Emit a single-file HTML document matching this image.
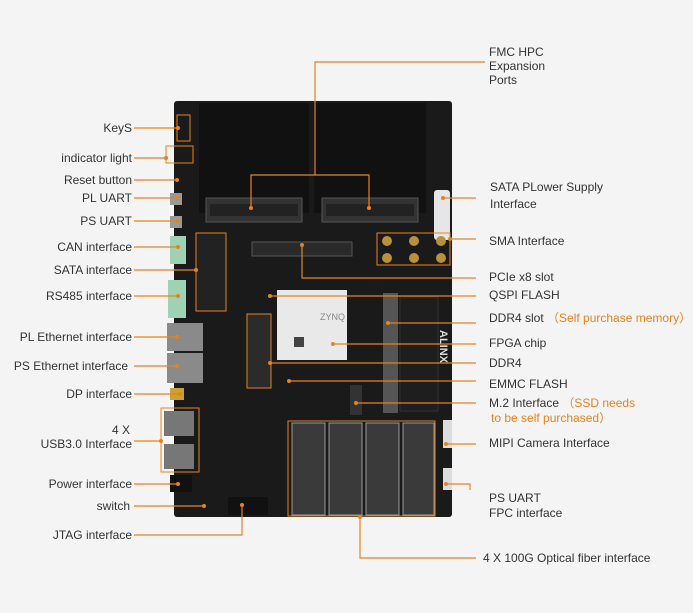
<!DOCTYPE html>
<html><head><meta charset="utf-8"><style>
html,body{margin:0;padding:0;background:#f4f4f4;}
svg{display:block}
text{font-family:"Liberation Sans",sans-serif;font-size:12px;fill:#333}
.o{fill:#e8821e}
</style></head><body>
<svg width="693" height="613" viewBox="0 0 693 613">
<rect width="693" height="613" fill="#f4f4f4"/>
<!-- board -->
<rect x="174" y="101" width="278" height="416" rx="3" fill="#1a1a1b"/>
<rect x="199" y="103" width="110" height="110" fill="#111"/>
<rect x="314" y="103" width="112" height="110" fill="#111"/>
<!-- FMC connectors -->
<rect x="206" y="198" width="96" height="24" fill="#333" stroke="#555"/>
<rect x="322" y="198" width="96" height="24" fill="#333" stroke="#555"/>
<rect x="210" y="204" width="88" height="12" fill="#222"/>
<rect x="326" y="204" width="88" height="12" fill="#222"/>
<!-- SATA power -->
<rect x="434" y="190" width="16" height="50" rx="3" fill="#e6e6e8"/>
<!-- PCIe -->
<rect x="252" y="242" width="100" height="14" fill="#2a2a2a" stroke="#555"/>
<!-- SATA ports -->
<rect x="196" y="233" width="30" height="78" fill="#222" stroke="#e8821e"/>
<!-- SMA -->
<rect x="377" y="233" width="73" height="32" fill="none" stroke="#e8821e"/>
<g fill="#b8923a"><circle cx="387" cy="241" r="5"/><circle cx="414" cy="241" r="5"/><circle cx="441" cy="241" r="5"/><circle cx="387" cy="258" r="5"/><circle cx="414" cy="258" r="5"/><circle cx="441" cy="258" r="5"/></g>
<!-- FPGA -->
<rect x="277" y="290" width="70" height="70" fill="#e9e9e9"/>
<rect x="294" y="337" width="10" height="10" fill="#444"/>
<text x="320" y="320" style="font-size:9px;fill:#888">ZYNQ</text>
<!-- DDR4 chips -->
<rect x="247" y="314" width="24" height="74" fill="#2b2b2b" stroke="#e8821e"/>
<!-- DDR slot -->
<rect x="383" y="293" width="15" height="120" fill="#555"/>
<rect x="400" y="297" width="38" height="114" fill="#1e1e1e" stroke="#333"/>
<text x="440" y="330" transform="rotate(90 440 330)" style="font-size:11px;fill:#ddd;font-weight:bold">ALINX</text>
<!-- M.2 -->
<rect x="350" y="385" width="12" height="30" fill="#333"/>
<!-- QSFP -->
<rect x="288" y="421" width="147" height="95" fill="none" stroke="#e8821e"/>
<g fill="#3a3a3a" stroke="#999"><rect x="292" y="423" width="33" height="92"/><rect x="329" y="423" width="33" height="92"/><rect x="366" y="423" width="33" height="92"/><rect x="403" y="423" width="31" height="92"/></g>
<!-- left connectors -->
<rect x="170" y="236" width="16" height="28" fill="#9fd1b4"/>
<rect x="168" y="280" width="18" height="38" fill="#9fd1b4"/>
<rect x="167" y="323" width="36" height="28" fill="#8a8a8a"/>
<rect x="167" y="353" width="36" height="30" fill="#8a8a8a"/>
<rect x="170" y="388" width="14" height="12" fill="#c9a232"/>
<rect x="161" y="408" width="38" height="64" fill="none" stroke="#e8821e"/>
<rect x="164" y="411" width="30" height="25" fill="#777"/>
<rect x="164" y="444" width="30" height="25" fill="#777"/>
<rect x="170" y="475" width="22" height="17" fill="#111"/>
<rect x="170" y="193" width="12" height="12" fill="#999"/>
<rect x="170" y="216" width="12" height="12" fill="#999"/>
<rect x="177" y="115" width="13" height="26" fill="none" stroke="#e8821e"/>
<rect x="166" y="146" width="27" height="17" fill="none" stroke="#e8821e"/>
<rect x="443" y="420" width="9" height="28" fill="#ddd"/>
<rect x="443" y="468" width="9" height="22" fill="#ddd"/>
<rect x="228" y="497" width="40" height="18" fill="#111"/>

<!-- connectors -->
<g stroke="#e8821e" stroke-width="1.2" fill="none">
<polyline points="485,62 315,62 315,175"/>
<polyline points="251,208 251,175 369,175 369,208"/>
<line x1="134" y1="128" x2="178" y2="128"/>
<line x1="134" y1="158" x2="166" y2="158"/>
<line x1="134" y1="180" x2="177" y2="180"/>
<line x1="134" y1="198" x2="178" y2="198"/>
<line x1="134" y1="221" x2="178" y2="221"/>
<line x1="134" y1="247" x2="178" y2="247"/>
<line x1="134" y1="270" x2="196" y2="270"/>
<line x1="134" y1="296" x2="178" y2="296"/>
<line x1="134" y1="337" x2="177" y2="337"/>
<line x1="134" y1="366" x2="177" y2="366"/>
<line x1="134" y1="394" x2="180" y2="394"/>
<line x1="134" y1="441" x2="161" y2="441"/>
<line x1="134" y1="484" x2="178" y2="484"/>
<line x1="134" y1="506" x2="204" y2="506"/>
<polyline points="134,535 242,535 242,505"/>
<line x1="443" y1="198" x2="476" y2="198"/>
<line x1="450" y1="239" x2="476" y2="239"/>
<polyline points="302,245 302,278 476,278"/>
<line x1="270" y1="296" x2="476" y2="296"/>
<line x1="388" y1="323" x2="476" y2="323"/>
<line x1="333" y1="344" x2="476" y2="344"/>
<line x1="270" y1="363" x2="476" y2="363"/>
<line x1="289" y1="381" x2="476" y2="381"/>
<line x1="356" y1="403" x2="476" y2="403"/>
<line x1="446" y1="444" x2="476" y2="444"/>
<polyline points="446,484 470,484 470,490"/>
<polyline points="360,517 360,558 476,558"/>
</g>
<g class="o">
<circle cx="251" cy="208" r="2"/><circle cx="369" cy="208" r="2"/>
<circle cx="178" cy="128" r="2"/><circle cx="166" cy="158" r="2"/><circle cx="177" cy="180" r="2"/>
<circle cx="178" cy="198" r="2"/><circle cx="178" cy="221" r="2"/><circle cx="178" cy="247" r="2"/>
<circle cx="196" cy="270" r="2"/><circle cx="178" cy="296" r="2"/><circle cx="177" cy="337" r="2"/>
<circle cx="177" cy="366" r="2"/><circle cx="180" cy="394" r="2"/><circle cx="161" cy="441" r="2"/>
<circle cx="178" cy="484" r="2"/><circle cx="204" cy="506" r="2"/><circle cx="242" cy="505" r="2"/>
<circle cx="443" cy="198" r="2"/><circle cx="450" cy="239" r="2"/><circle cx="302" cy="245" r="2"/>
<circle cx="270" cy="296" r="2"/><circle cx="388" cy="323" r="2"/><circle cx="333" cy="344" r="2"/>
<circle cx="270" cy="363" r="2"/><circle cx="289" cy="381" r="2"/><circle cx="356" cy="403" r="2"/>
<circle cx="446" cy="444" r="2"/><circle cx="446" cy="484" r="2"/><circle cx="360" cy="517" r="2"/>
</g>

<!-- labels -->
<g text-anchor="end">
<text x="132" y="132">KeyS</text>
<text x="132" y="162">indicator light</text>
<text x="132" y="184">Reset button</text>
<text x="132" y="202">PL UART</text>
<text x="132" y="225">PS UART</text>
<text x="132" y="251">CAN interface</text>
<text x="132" y="274">SATA interface</text>
<text x="132" y="300">RS485 interface</text>
<text x="132" y="341">PL Ethernet interface</text>
<text x="128" y="370">PS Ethernet interface</text>
<text x="132" y="398">DP interface</text>
<text x="130" y="434">4 X</text>
<text x="132" y="448">USB3.0 Interface</text>
<text x="132" y="488">Power interface</text>
<text x="130" y="510">switch</text>
<text x="132" y="539">JTAG interface</text>
</g>
<text x="489" y="56">FMC HPC</text>
<text x="489" y="70">Expansion</text>
<text x="489" y="84">Ports</text>
<text x="490" y="191">SATA  PLower Supply</text>
<text x="490" y="208">Interface</text>
<text x="489" y="245">SMA Interface</text>
<text x="489" y="281">PCIe x8  slot</text>
<text x="489" y="299">QSPI FLASH</text>
<text x="489" y="322">DDR4 slot <tspan class="o">（Self purchase memory）</tspan></text>
<text x="489" y="347">FPGA chip</text>
<text x="489" y="367">DDR4</text>
<text x="489" y="388">EMMC FLASH</text>
<text x="489" y="407">M.2 Interface <tspan class="o">（SSD needs</tspan></text>
<text x="491" y="422" class="o">to be self purchased）</text>
<text x="489" y="447">MIPI Camera Interface</text>
<text x="489" y="502">PS UART</text>
<text x="489" y="517">FPC interface</text>
<text x="483" y="562">4 X 100G Optical fiber interface</text>
</svg>
</body></html>
